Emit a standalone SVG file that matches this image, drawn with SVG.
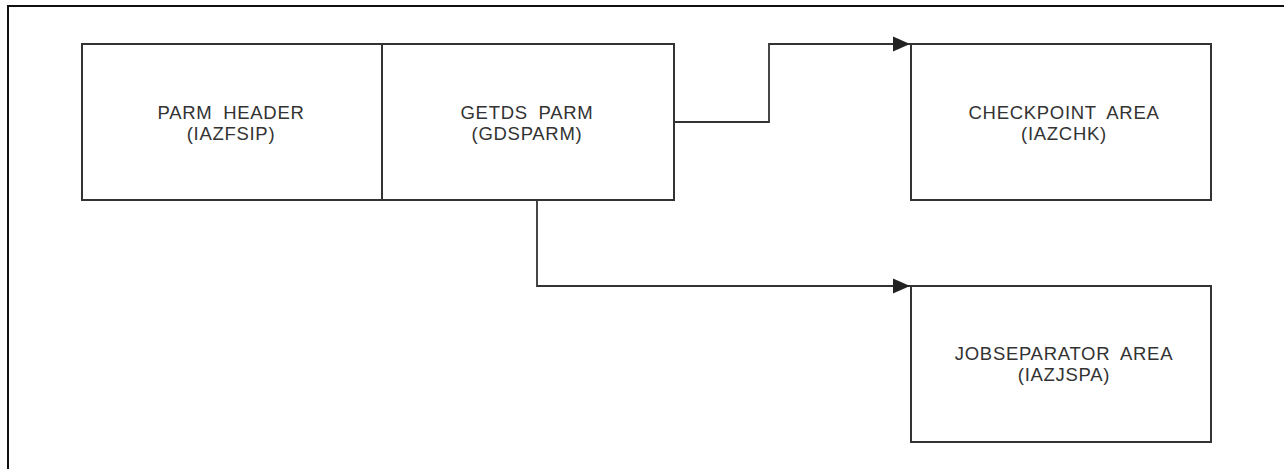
<svg xmlns="http://www.w3.org/2000/svg" width="1284" height="469" viewBox="0 0 1284 469">
<style>
.box{fill:#fff;stroke:#333;stroke-width:2}
.frame{fill:none;stroke:#111;stroke-width:2}
.conn{fill:none;stroke:#333;stroke-width:1.8}
.lbl{font-family:"Liberation Sans",Arial,sans-serif;font-size:18.5px;fill:#333;text-anchor:middle;letter-spacing:0.7px;word-spacing:5px}
</style>
<defs>
<marker id="arr" markerWidth="17" markerHeight="16" refX="17" refY="8" orient="auto" markerUnits="userSpaceOnUse">
<path d="M0,0.5 L17,8 L0,15.5 Z" fill="#222"/>
</marker>
</defs>
<path class="frame" d="M8,469 V6 H1284"/>
<g id="parm-header">
<rect class="box" x="82" y="44" width="300" height="156"/>
<text class="lbl" x="231" y="119">PARM HEADER</text>
<text class="lbl" x="231" y="140">(IAZFSIP)</text>
</g>
<g id="getds-parm">
<rect class="box" x="382" y="44" width="292" height="156"/>
<text class="lbl" x="527" y="119">GETDS PARM</text>
<text class="lbl" x="527" y="140">(GDSPARM)</text>
</g>
<g id="checkpoint-area">
<rect class="box" x="911" y="44" width="300" height="156"/>
<text class="lbl" x="1064" y="119">CHECKPOINT AREA</text>
<text class="lbl" x="1064" y="140">(IAZCHK)</text>
</g>
<g id="jobseparator-area">
<rect class="box" x="911" y="286" width="300" height="156"/>
<text class="lbl" x="1064" y="360">JOBSEPARATOR AREA</text>
<text class="lbl" x="1064" y="381">(IAZJSPA)</text>
</g>
<g id="connectors">
<path class="conn" d="M674,122 H769 V44 H910" marker-end="url(#arr)"/>
<path class="conn" d="M537,200 V286 H910" marker-end="url(#arr)"/>
</g>
</svg>
